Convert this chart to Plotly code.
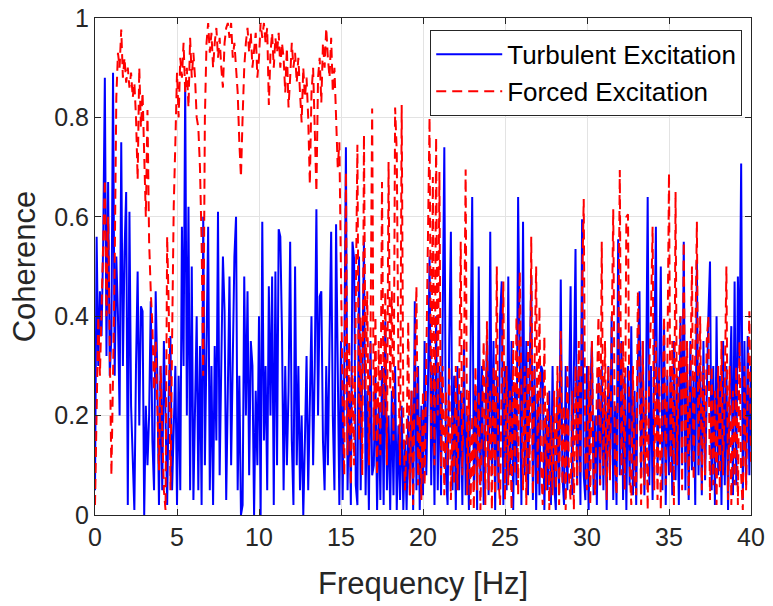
import numpy as np
import plotly.graph_objects as go

# Frequency grid [Hz], 0.1 Hz step
freq = np.round(np.arange(0, 401) * 0.1, 1)

# Coherence, turbulent excitation (one row per Hz: k.0 ... k.9)
turbulent_rows = [
    [0.05, 0.56, 0.30, 0.45, 0.36, 0.55, 0.88, 0.32, 0.67, 0.28],
    [0.36, 0.89, 0.28, 0.52, 0.40, 0.20, 0.75, 0.30, 0.53, 0.65],
    [0.02, 0.61, 0.22, 0.10, 0.01, 0.30, 0.49, 0.18, 0.42, 0.41],
    [0.00, 0.22, 0.10, 0.20, 0.43, 0.15, 0.05, 0.45, 0.28, 0.02],
    [0.30, 0.05, 0.35, 0.20, 0.02, 0.25, 0.36, 0.05, 0.18, 0.30],
    [0.02, 0.28, 0.05, 0.58, 0.30, 0.87, 0.20, 0.62, 0.05, 0.50],
    [0.03, 0.25, 0.40, 0.05, 0.34, 0.02, 0.60, 0.10, 0.35, 0.58],
    [0.05, 0.30, 0.02, 0.34, 0.15, 0.61, 0.08, 0.30, 0.52, 0.41],
    [0.03, 0.25, 0.48, 0.10, 0.35, 0.52, 0.60, 0.05, 0.28, 0.00],
    [0.02, 0.48, 0.20, 0.45, 0.08, 0.35, 0.30, 0.00, 0.25, 0.10],
    [0.40, 0.00, 0.59, 0.15, 0.30, 0.05, 0.46, 0.20, 0.48, 0.02],
    [0.49, 0.10, 0.575, 0.56, 0.37, 0.05, 0.30, 0.10, 0.25, 0.55],
    [0.15, 0.02, 0.50, 0.10, 0.30, 0.05, 0.20, 0.00, 0.15, 0.32],
    [0.05, 0.25, 0.40, 0.10, 0.30, 0.615, 0.20, 0.44, 0.45, 0.15],
    [0.05, 0.30, 0.10, 0.35, 0.57, 0.20, 0.05, 0.585, 0.25, 0.02],
    [0.35, 0.03, 0.30, 0.74, 0.05, 0.25, 0.02, 0.55, 0.515, 0.06],
    [0.02, 0.52, 0.05, 0.30, 0.55, 0.04, 0.25, 0.01, 0.35, 0.08],
    [0.10, 0.28, 0.01, 0.22, 0.03, 0.30, 0.02, 0.39, 0.05, 0.20],
    [0.01, 0.25, 0.04, 0.30, 0.01, 0.18, 0.03, 0.22, 0.01, 0.15],
    [0.01, 0.20, 0.04, 0.25, 0.01, 0.43, 0.05, 0.30, 0.01, 0.22],
    [0.04, 0.35, 0.08, 0.25, 0.52, 0.06, 0.30, 0.02, 0.40, 0.05],
    [0.30, 0.04, 0.38, 0.74, 0.08, 0.02, 0.35, 0.57, 0.05, 0.28],
    [0.01, 0.30, 0.05, 0.25, 0.02, 0.35, 0.04, 0.20, 0.01, 0.30],
    [0.64, 0.05, 0.25, 0.01, 0.50, 0.06, 0.30, 0.02, 0.22, 0.35],
    [0.04, 0.57, 0.08, 0.35, 0.01, 0.28, 0.05, 0.40, 0.47, 0.02],
    [0.30, 0.05, 0.48, 0.08, 0.35, 0.01, 0.25, 0.06, 0.64, 0.30],
    [0.02, 0.59, 0.08, 0.35, 0.04, 0.28, 0.48, 0.03, 0.30, 0.01],
    [0.25, 0.04, 0.30, 0.29, 0.01, 0.20, 0.05, 0.25, 0.02, 0.30],
    [0.06, 0.01, 0.25, 0.04, 0.474, 0.08, 0.02, 0.30, 0.05, 0.22],
    [0.46, 0.04, 0.25, 0.535, 0.06, 0.30, 0.02, 0.595, 0.08, 0.03],
    [0.30, 0.01, 0.25, 0.35, 0.04, 0.20, 0.02, 0.28, 0.06, 0.30],
    [0.05, 0.25, 0.01, 0.30, 0.08, 0.40, 0.03, 0.22, 0.02, 0.555],
    [0.08, 0.35, 0.03, 0.28, 0.01, 0.30, 0.06, 0.38, 0.04, 0.25],
    [0.02, 0.30, 0.45, 0.08, 0.35, 0.04, 0.25, 0.64, 0.06, 0.30],
    [0.03, 0.35, 0.58, 0.08, 0.30, 0.50, 0.05, 0.38, 0.02, 0.28],
    [0.08, 0.30, 0.04, 0.35, 0.07, 0.28, 0.02, 0.40, 0.10, 0.55],
    [0.05, 0.30, 0.03, 0.35, 0.09, 0.28, 0.02, 0.51, 0.08, 0.30],
    [0.04, 0.35, 0.07, 0.25, 0.40, 0.51, 0.05, 0.30, 0.02, 0.40],
    [0.08, 0.28, 0.02, 0.35, 0.06, 0.30, 0.01, 0.25, 0.38, 0.04],
    [0.47, 0.06, 0.48, 0.30, 0.707, 0.03, 0.35, 0.06, 0.36, 0.08],
    [0.30],
]

# Coherence, forced excitation (one row per Hz: k.0 ... k.9)
forced_rows = [
    [0.02, 0.25, 0.40, 0.28, 0.45, 0.55, 0.675, 0.40, 0.60, 0.30],
    [0.08, 0.28, 0.50, 0.84, 0.93, 0.90, 0.977, 0.88, 0.92, 0.87],
    [0.90, 0.86, 0.89, 0.84, 0.87, 0.80, 0.675, 0.90, 0.78, 0.85],
    [0.70, 0.60, 0.815, 0.55, 0.45, 0.38, 0.25, 0.35, 0.22, 0.09],
    [0.30, 0.15, 0.05, 0.01, 0.56, 0.41, 0.05, 0.35, 0.62, 0.75],
    [0.89, 0.80, 0.92, 0.88, 0.95, 0.85, 0.90, 0.82, 0.96, 0.88],
    [0.93, 0.88, 0.80, 0.78, 0.70, 0.55, 0.28, 0.80, 0.95, 0.99],
    [0.93, 0.97, 0.90, 0.95, 0.98, 0.92, 0.96, 0.90, 0.86, 0.95],
    [0.98, 0.99, 0.96, 0.99, 0.92, 0.95, 0.90, 0.85, 0.75, 0.68],
    [0.80, 0.90, 0.95, 0.98, 0.93, 0.97, 0.90, 0.94, 0.97, 0.88],
    [0.92, 0.99, 0.96, 0.99, 0.95, 0.98, 0.825, 0.93, 0.97, 0.90],
    [0.96, 0.93, 0.97, 0.90, 0.95, 0.92, 0.85, 0.94, 0.82, 0.88],
    [0.95, 0.90, 0.93, 0.87, 0.92, 0.85, 0.79, 0.90, 0.84, 0.88],
    [0.80, 0.665, 0.85, 0.90, 0.75, 0.65, 0.88, 0.92, 0.83, 0.95],
    [0.90, 0.98, 0.92, 0.88, 0.96, 0.85, 0.90, 0.80, 0.70, 0.75],
    [0.45, 0.22, 0.08, 0.69, 0.12, 0.35, 0.06, 0.30, 0.10, 0.50],
    [0.745, 0.15, 0.40, 0.08, 0.765, 0.25, 0.45, 0.10, 0.35, 0.818],
    [0.15, 0.40, 0.08, 0.35, 0.12, 0.67, 0.20, 0.45, 0.10, 0.71],
    [0.25, 0.45, 0.15, 0.82, 0.73, 0.30, 0.10, 0.825, 0.20, 0.05],
    [0.15, 0.39, 0.04, 0.25, 0.02, 0.30, 0.46, 0.06, 0.20, 0.03],
    [0.25, 0.06, 0.35, 0.55, 0.80, 0.15, 0.68, 0.10, 0.76, 0.20],
    [0.69, 0.08, 0.30, 0.04, 0.25, 0.10, 0.30, 0.03, 0.20, 0.06],
    [0.30, 0.05, 0.25, 0.55, 0.08, 0.30, 0.695, 0.04, 0.25, 0.02],
    [0.20, 0.01, 0.30, 0.05, 0.25, 0.01, 0.15, 0.35, 0.02, 0.39],
    [0.05, 0.25, 0.01, 0.30, 0.04, 0.50, 0.08, 0.02, 0.28, 0.47],
    [0.03, 0.30, 0.06, 0.25, 0.01, 0.35, 0.08, 0.40, 0.04, 0.49],
    [0.25, 0.05, 0.30, 0.02, 0.35, 0.08, 0.56, 0.04, 0.30, 0.50],
    [0.06, 0.42, 0.10, 0.02, 0.36, 0.05, 0.25, 0.01, 0.20, 0.04],
    [0.25, 0.05, 0.30, 0.02, 0.37, 0.06, 0.22, 0.01, 0.30, 0.08],
    [0.03, 0.25, 0.01, 0.30, 0.06, 0.35, 0.08, 0.45, 0.636, 0.10],
    [0.05, 0.30, 0.02, 0.35, 0.08, 0.04, 0.25, 0.40, 0.06, 0.55],
    [0.08, 0.35, 0.03, 0.30, 0.07, 0.40, 0.615, 0.10, 0.04, 0.30],
    [0.694, 0.08, 0.35, 0.05, 0.60, 0.605, 0.10, 0.02, 0.30, 0.06],
    [0.04, 0.45, 0.30, 0.02, 0.35, 0.06, 0.25, 0.01, 0.30, 0.40],
    [0.58, 0.05, 0.35, 0.03, 0.30, 0.01, 0.25, 0.40, 0.06, 0.30],
    [0.688, 0.08, 0.35, 0.02, 0.65, 0.10, 0.30, 0.40, 0.05, 0.55],
    [0.10, 0.35, 0.04, 0.30, 0.50, 0.07, 0.35, 0.59, 0.10, 0.40],
    [0.05, 0.30, 0.08, 0.35, 0.40, 0.03, 0.30, 0.06, 0.25, 0.02],
    [0.30, 0.05, 0.35, 0.08, 0.25, 0.50, 0.03, 0.30, 0.02, 0.25],
    [0.06, 0.30, 0.02, 0.35, 0.08, 0.01, 0.30, 0.05, 0.25, 0.41],
    [0.10],
]

turbulent_coh = [v for row in turbulent_rows for v in row]
forced_coh = [v for row in forced_rows for v in row]

x_ticks = [0, 5, 10, 15, 20, 25, 30, 35, 40]
y_ticks = [0, 0.2, 0.4, 0.6, 0.8, 1]
y_tick_labels = ["0", "0.2", "0.4", "0.6", "0.8", "1"]

FONT = "Liberation Sans, Arial, Helvetica, sans-serif"
AX = "#262626"

fig = go.Figure()
fig.add_trace(go.Scatter(
    x=freq, y=turbulent_coh, mode="lines", name="Turbulent Excitation",
    line=dict(color="#0000ff", width=2),
))
fig.add_trace(go.Scatter(
    x=freq, y=forced_coh, mode="lines", name="Forced Excitation",
    line=dict(color="#ff0000", width=2, dash="10px,6px"),
))

axis_common = dict(
    showline=True, linecolor=AX, linewidth=1, mirror="ticks",
    ticks="inside", ticklen=6, tickcolor=AX,
    showgrid=True, gridcolor="#e3e3e3", gridwidth=1,
    zeroline=False, automargin=False,
    tickfont=dict(family=FONT, size=25, color=AX),
)

fig.update_xaxes(range=[0, 40], tickvals=x_ticks, **axis_common)
fig.update_yaxes(range=[0, 1], tickvals=y_ticks, ticktext=y_tick_labels, **axis_common)

fig.update_layout(
    width=773, height=606,
    margin=dict(l=95, r=22, t=18, b=91),
    paper_bgcolor="white", plot_bgcolor="white",
    showlegend=True,
    legend=dict(
        x=0.511, y=0.976, xanchor="left", yanchor="top",
        bgcolor="white", bordercolor=AX, borderwidth=1,
        font=dict(family=FONT, size=26, color="#000000"),
        itemwidth=66, tracegroupgap=0,
    ),
    annotations=[
        dict(text="Frequency [Hz]", xref="paper", yref="paper", x=0.5, y=-0.137,
             xanchor="center", yanchor="middle", showarrow=False,
             font=dict(family=FONT, size=31, color=AX)),
        dict(text="Coherence", xref="paper", yref="paper", x=-0.107, y=0.5,
             xanchor="center", yanchor="middle", showarrow=False, textangle=-90,
             font=dict(family=FONT, size=31, color=AX)),
    ],
)

fig.write_html(
    "out.html",
    config={"displayModeBar": False},
    post_script="document.body.style.margin='0';document.body.style.padding='0';",
)
